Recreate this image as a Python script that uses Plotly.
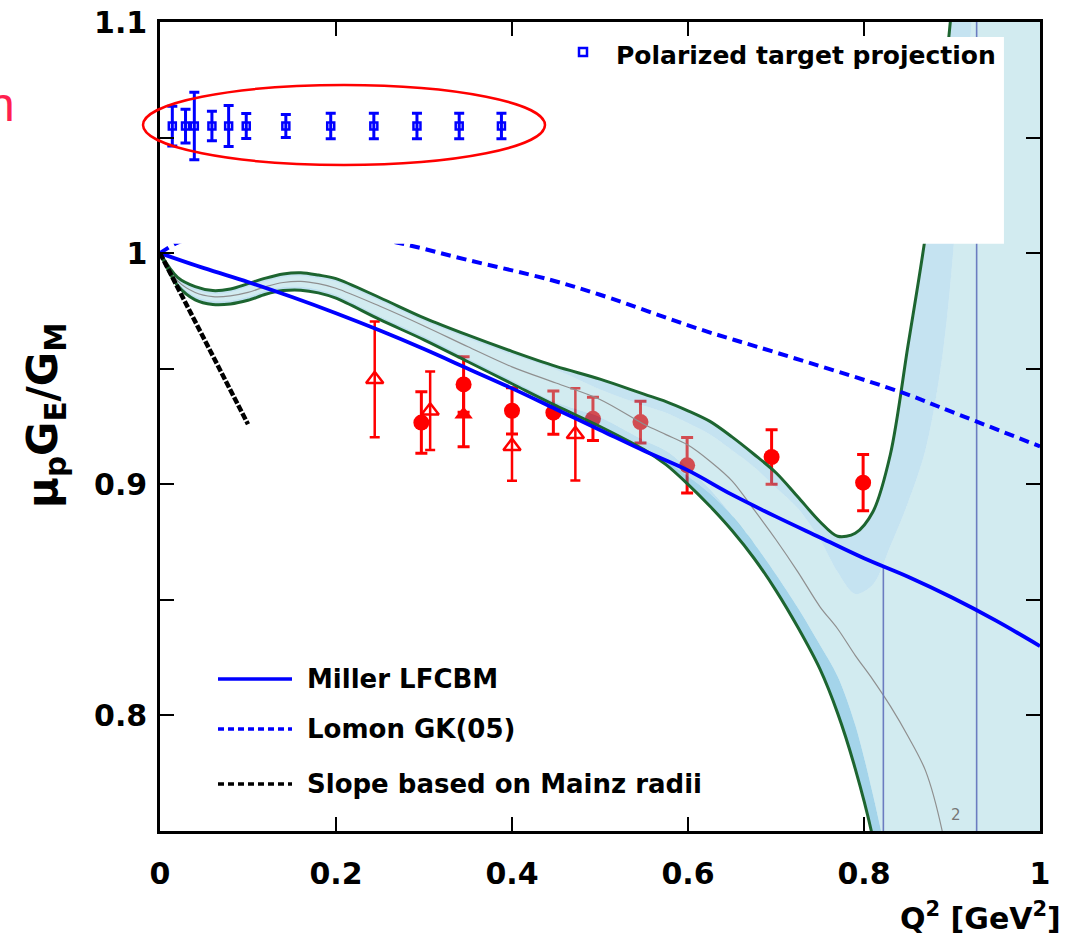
import plotly.graph_objects as go

# ---------------------------------------------------------------- fit band
band_q = [0.0, 0.02, 0.04, 0.06, 0.08, 0.10, 0.12, 0.14, 0.16, 0.18, 0.20,
          0.25, 0.30, 0.35, 0.40, 0.45, 0.50, 0.55, 0.575, 0.60, 0.625, 0.65,
          0.675, 0.70, 0.725, 0.75, 0.77, 0.79, 0.81, 0.83, 0.85, 0.87, 0.89,
          0.91, 0.93, 0.96, 1.0]
band_upper = [1.000, 0.9895, 0.9855, 0.9838, 0.9845, 0.9868, 0.9892, 0.9910, 0.9915, 0.9905, 0.9890,
              0.9807, 0.9720, 0.9645, 0.9575, 0.9510, 0.9455, 0.9390, 0.9358, 0.9318, 0.9272, 0.9205,
              0.9130, 0.9050, 0.8945, 0.8838, 0.8775, 0.8788, 0.8880, 0.9130, 0.9600, 1.0080, 1.0700,
              1.1500, 1.2500, 1.3500, 1.4500]
band_inner_hi = [1.000, 0.9880, 0.9840, 0.9823, 0.9830, 0.9853, 0.9877, 0.9895, 0.9900, 0.9890, 0.9875,
                 0.9792, 0.9705, 0.9630, 0.9560, 0.9495, 0.9410, 0.9340, 0.9310, 0.9265, 0.9215, 0.9147,
                 0.9075, 0.8985, 0.8895, 0.8760, 0.8620, 0.8525, 0.8565, 0.8733, 0.8920, 0.9150, 0.9580,
                 1.0400, 1.1400, 1.3000, 1.4500]
band_center = [1.000, 0.9880, 0.9830, 0.9812, 0.9815, 0.9830, 0.9855, 0.9873, 0.9878, 0.9868, 0.9848,
               0.9770, 0.9685, 0.9595, 0.9508, 0.9438, 0.9367, 0.9260, 0.9215, 0.9170, 0.9100, 0.9015,
               0.8890, 0.8760, 0.8620, 0.8470, 0.8375, 0.8260, 0.8155, 0.8040, 0.7910, 0.7760, 0.7480,
               0.7000, 0.6500, 0.6000, 0.6000]
band_inner_lo = [1.000, 0.9875, 0.9813, 0.9793, 0.9795, 0.9811, 0.9837, 0.9853, 0.9855, 0.9843, 0.9820,
                 0.9727, 0.9640, 0.9545, 0.9450, 0.9355, 0.9290, 0.9190, 0.9145, 0.9068, 0.8978, 0.8865,
                 0.8745, 0.8610, 0.8465, 0.8305, 0.8170, 0.7960, 0.7660, 0.7300, 0.6800, 0.6000, 0.6000,
                 0.6000, 0.6000, 0.6000, 0.6000]
band_dark_hi = [1.000, 0.9860, 0.9798, 0.9778, 0.9780, 0.9796, 0.9822, 0.9838, 0.9840, 0.9828, 0.9805,
                0.9712, 0.9625, 0.9530, 0.9435, 0.9340, 0.9250, 0.9150, 0.9100, 0.9035, 0.8960, 0.8865,
                0.8745, 0.8610, 0.8465, 0.8305, 0.8170, 0.7960, 0.7660, 0.7300, 0.6800, 0.6000, 0.6000,
                0.6000, 0.6000, 0.6000, 0.6000]
band_lower = [1.000, 0.9860, 0.9798, 0.9778, 0.9780, 0.9796, 0.9822, 0.9838, 0.9840, 0.9828, 0.9805,
              0.9712, 0.9625, 0.9530, 0.9435, 0.9340, 0.9250, 0.9150, 0.9085, 0.9000, 0.8905, 0.8800,
              0.8680, 0.8540, 0.8380, 0.8200, 0.8010, 0.7770, 0.7470, 0.7000, 0.6300, 0.5000, 0.5000,
              0.5000, 0.5000, 0.5000, 0.5000]
band_cut_q = [0.822, 0.928]
band_cut_top = [0.8645, 1.1]

# ---------------------------------------------------------------- models
miller_q = [0.0, 0.05, 0.10, 0.15, 0.20, 0.25, 0.30, 0.35, 0.40, 0.45, 0.50,
            0.55, 0.60, 0.65, 0.70, 0.75, 0.80, 0.85, 0.90, 0.95, 1.0]
miller_ratio = [1.000, 0.9935, 0.9875, 0.9810, 0.9740, 0.9665, 0.9585, 0.9500, 0.9415, 0.9325, 0.9235,
                0.9145, 0.9060, 0.8955, 0.8860, 0.8770, 0.8680, 0.8600, 0.8510, 0.8410, 0.8300]
lomon_q = [0.0, 0.02, 0.05, 0.10, 0.15, 0.20, 0.27, 0.35, 0.443, 0.50, 0.614, 0.70, 0.841, 0.90, 1.0]
lomon_ratio = [1.000, 1.0045, 1.0080, 1.0105, 1.0105, 1.0090, 1.0045, 0.9970, 0.9885, 0.9820,
               0.9670, 0.9570, 0.9400, 0.9313, 0.9164]
slope_q = [0.0, 0.10]
slope_ratio = [1.000, 0.926]

# ---------------------------------------------------------------- data
circ_q = [0.297, 0.345, 0.400, 0.447, 0.492, 0.546, 0.599, 0.695, 0.799]
circ_ratio = [0.9267, 0.9432, 0.9318, 0.9310, 0.9283, 0.9269, 0.9082, 0.9118, 0.9007]
circ_err = [0.0133, 0.0120, 0.0100, 0.0094, 0.0094, 0.0090, 0.0120, 0.0118, 0.0122]

otri_q = [0.244, 0.307, 0.400, 0.472]
otri_ratio = [0.9454, 0.9318, 0.9165, 0.9216]
otri_err = [0.0250, 0.0170, 0.0150, 0.0200]

ftri_q = [0.345]
ftri_ratio = [0.9302]
ftri_err = [0.0140]

proj_q = [0.014, 0.029, 0.039, 0.059, 0.078, 0.098, 0.143, 0.194, 0.243, 0.292, 0.340, 0.388]
proj_ratio = [1.055, 1.055, 1.055, 1.055, 1.055, 1.055, 1.055, 1.055, 1.055, 1.055, 1.055, 1.055]
proj_err = [0.0086, 0.0073, 0.0146, 0.0064, 0.0089, 0.0054, 0.0050, 0.0055, 0.0055, 0.0055, 0.0055, 0.0055]

x_ticks = [0.0, 0.2, 0.4, 0.6, 0.8, 1.0]
x_ticktext = ["0", "0.2", "0.4", "0.6", "0.8", "1"]
y_ticks = [0.75, 0.80, 0.85, 0.90, 0.95, 1.00, 1.05, 1.10]
y_ticktext = ["", "0.8", "", "0.9", "", "1", "", "1.1"]

FONT = "DejaVu Sans"
RED = "#ff0000"
BLUE = "#0000ff"


def veil(hex_color, alpha):
    """Translucent colour that shows as hex_color over a white page."""
    rgb = [int(hex_color[i:i + 2], 16) for i in (1, 3, 5)]
    c = [max(0, min(255, round((v - 255 * (1 - alpha)) / alpha))) for v in rgb]
    return f"rgba({c[0]},{c[1]},{c[2]},{alpha})"


fig = go.Figure()

# data points (drawn first so the translucent band tints them)
fig.add_trace(go.Scatter(
    x=circ_q, y=circ_ratio, mode="markers",
    marker=dict(symbol="circle", size=16, color=RED),
    error_y=dict(type="data", array=circ_err, color=RED, thickness=3, width=6)))
fig.add_trace(go.Scatter(
    x=otri_q, y=otri_ratio, mode="markers",
    marker=dict(symbol="triangle-up-open", size=15, color=RED, line=dict(width=2.5, color=RED)),
    error_y=dict(type="data", array=otri_err, color=RED, thickness=2.5, width=5)))
fig.add_trace(go.Scatter(
    x=ftri_q, y=ftri_ratio, mode="markers",
    marker=dict(symbol="triangle-up", size=16, color=RED),
    error_y=dict(type="data", array=ftri_err, color=RED, thickness=3, width=6)))

SMOOTH = 0.9


def band_region(lo, hi, color):
    fig.add_trace(go.Scatter(
        x=band_q + band_q[::-1], y=hi + lo[::-1], mode="lines",
        fill="toself", fillcolor=color, line=dict(width=0, shape="spline", smoothing=SMOOTH),
        hoverinfo="skip"))


band_region(band_lower, band_dark_hi, veil("#a4d4ea", 0.38))
band_region(band_dark_hi, band_inner_lo, veil("#bfe0ef", 0.38))
band_region(band_inner_lo, band_inner_hi, veil("#d2ebf0", 0.38))
band_region(band_inner_hi, band_upper, veil("#c5e3f1", 0.38))

fig.add_trace(go.Scatter(x=band_q, y=band_center, mode="lines",
                         line=dict(color="#8f8f8f", width=1.2, shape="spline", smoothing=SMOOTH)))
for edge in (band_upper, band_lower):
    fig.add_trace(go.Scatter(x=band_q, y=edge, mode="lines",
                             line=dict(color="#1d6530", width=3, shape="spline", smoothing=SMOOTH)))

for q, top in zip(band_cut_q, band_cut_top):
    fig.add_trace(go.Scatter(x=[q, q], y=[0.75, top], mode="lines",
                             line=dict(color="#6b7cc0", width=1.6)))

fig.add_trace(go.Scatter(x=miller_q, y=miller_ratio, mode="lines",
                         line=dict(color=BLUE, width=3.8, shape="spline")))
fig.add_trace(go.Scatter(x=lomon_q, y=lomon_ratio, mode="lines",
                         line=dict(color=BLUE, width=4, dash="10px,6px", shape="spline")))
fig.add_trace(go.Scatter(x=slope_q, y=slope_ratio, mode="lines",
                         line=dict(color="black", width=4.5, dash="7px,2px")))

# white backdrop behind the projection legend
fig.add_trace(go.Scatter(x=[0.0, 0.959, 0.959, 0.0, 0.0],
                         y=[1.0041, 1.0041, 1.0935, 1.0935, 1.0041],
                         mode="lines", fill="toself", fillcolor="white",
                         line=dict(width=0), hoverinfo="skip"))

fig.add_trace(go.Scatter(
    x=proj_q, y=proj_ratio, mode="markers",
    marker=dict(symbol="square-open", size=7, color=BLUE, line=dict(width=2.5, color=BLUE)),
    error_y=dict(type="data", array=proj_err, color=BLUE, thickness=3, width=5)))

axis_common = dict(showline=True, linecolor="black", linewidth=2.5, mirror="allticks",
                   ticks="inside", ticklen=14, tickwidth=2, tickcolor="black",
                   showgrid=False, zeroline=False, automargin=False,
                   tickfont=dict(family=FONT, size=30, color="black", weight="bold"))

fig.update_layout(
    width=1070, height=936,
    margin=dict(l=160, r=30, t=22, b=105),
    paper_bgcolor="white", plot_bgcolor="white",
    showlegend=False,
    xaxis=dict(range=[0, 1], tickmode="array", tickvals=x_ticks, ticktext=x_ticktext,
               ticklabelstandoff=14, **axis_common),
    yaxis=dict(range=[0.75, 1.1], tickmode="array", tickvals=y_ticks, ticktext=y_ticktext,
               ticklabelstandoff=4, **axis_common),
)


def px_to_paper(px, py):
    return (px - 160) / 880, (831 - py) / 809


shapes = []
annotations = []

# red ellipse around the projected points
x0, y0 = px_to_paper(143, 165)
x1, y1 = px_to_paper(545, 85)
shapes.append(dict(type="circle", xref="paper", yref="paper", x0=x0, x1=x1, y0=y0, y1=y1,
                   line=dict(color=RED, width=2.5), layer="above"))

# lower-left legend
legend_items = [("Miller LFCBM", BLUE, "solid", 679),
                ("Lomon GK(05)", BLUE, "6px,4px", 729),
                ("Slope based on Mainz radii", "black", "6px,4px", 784)]
for label, color, dash, py in legend_items:
    lx0, ly = px_to_paper(218, py)
    lx1, _ = px_to_paper(292, py)
    shapes.append(dict(type="line", xref="paper", yref="paper", x0=lx0, x1=lx1, y0=ly, y1=ly,
                       line=dict(color=color, width=3.5, dash=dash)))
    tx, _ = px_to_paper(305, py)
    annotations.append(dict(x=tx, y=ly, xref="paper", yref="paper", text=label,
                            showarrow=False, xanchor="left", yanchor="middle",
                            font=dict(family=FONT, size=26, color="black", weight="bold")))

# projection legend entry
sx0, sy0 = px_to_paper(579, 56)
sx1, sy1 = px_to_paper(587, 48)
shapes.append(dict(type="rect", xref="paper", yref="paper", x0=sx0, x1=sx1, y0=sy0, y1=sy1,
                   line=dict(color=BLUE, width=2.5), layer="above"))
tx, ty = px_to_paper(614, 56)
annotations.append(dict(x=tx, y=ty, xref="paper", yref="paper", text="Polarized target projection",
                        showarrow=False, xanchor="left", yanchor="middle",
                        font=dict(family=FONT, size=25, color="black", weight="bold")))

# axis titles
tx, ty = px_to_paper(45, 415)
annotations.append(dict(x=tx, y=ty, xref="paper", yref="paper",
                        text="μ<sub>p</sub>G<sub>E</sub>/G<sub>M</sub>", textangle=-90,
                        showarrow=False, xanchor="center", yanchor="middle",
                        font=dict(family=FONT, size=42, color="black", weight="bold")))
tx, ty = px_to_paper(1063, 916)
annotations.append(dict(x=tx, y=ty, xref="paper", yref="paper",
                        text="Q<sup>2</sup> [GeV<sup>2</sup>]",
                        showarrow=False, xanchor="right", yanchor="middle",
                        font=dict(family=FONT, size=30, color="black", weight="bold")))

# contour label on the central fit curve
annotations.append(dict(x=0.904, y=0.757, xref="x", yref="y", text="2", showarrow=False,
                        font=dict(family=FONT, size=15, color="#777777")))

# red note fragment at the left edge
tx, ty = px_to_paper(17, 104)
annotations.append(dict(x=tx, y=ty, xref="paper", yref="paper", text="n", showarrow=False,
                        xanchor="right", yanchor="middle",
                        font=dict(family="Liberation Sans", size=48, color="#ff1f4f")))

fig.update_layout(shapes=shapes, annotations=annotations)
fig.write_html("out.html")
